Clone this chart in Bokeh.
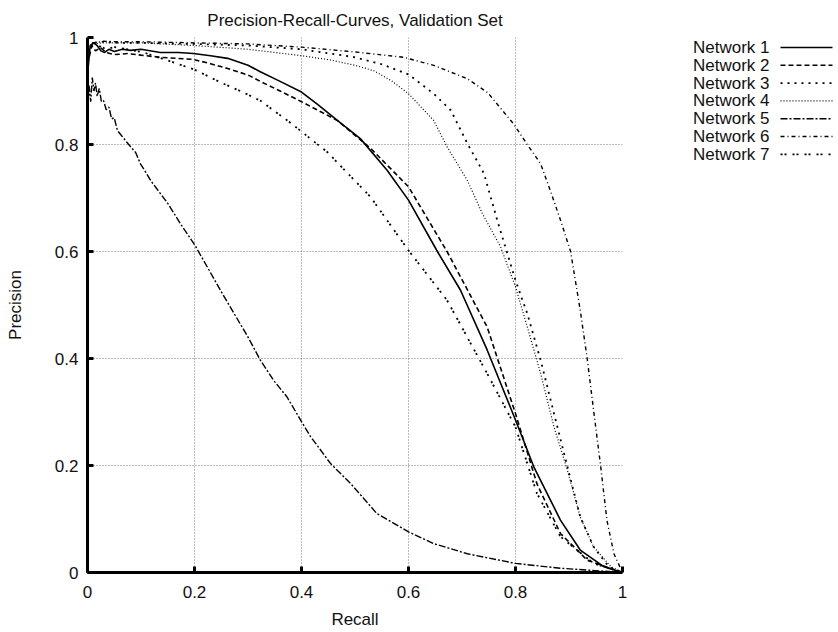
from bokeh.plotting import figure
from bokeh.models import Range1d, FixedTicker
from bokeh.layouts import row
from bokeh.embed import file_html
from bokeh.resources import INLINE
from bokeh.core.properties import value

FONT = "Liberation Sans"

# ---------------- data ----------------
series_names = ["Network 1", "Network 2", "Network 3", "Network 4",
                "Network 5", "Network 6", "Network 7"]

net1_recall = [0, 0.005, 0.012, 0.018, 0.025, 0.032, 0.04, 0.05, 0.065, 0.08, 0.1, 0.136, 0.17,
               0.198, 0.23, 0.262, 0.3, 0.323, 0.36, 0.4, 0.43, 0.467, 0.51, 0.56, 0.6, 0.654,
               0.697, 0.747, 0.8, 0.834, 0.884, 0.921, 0.965, 1.0]
net1_precision = [0.93, 0.985, 0.99, 0.985, 0.975, 0.972, 0.978, 0.974, 0.978, 0.976, 0.978, 0.972,
                  0.972, 0.970, 0.966, 0.961, 0.948, 0.936, 0.918, 0.898, 0.875, 0.845, 0.811,
                  0.752, 0.696, 0.60, 0.528, 0.416, 0.285, 0.198, 0.098, 0.042, 0.011, 0.0]

net2_recall = [0, 0.008, 0.015, 0.024, 0.035, 0.05, 0.075, 0.1, 0.136, 0.168, 0.198, 0.23, 0.262,
               0.3, 0.323, 0.36, 0.4, 0.467, 0.529, 0.6, 0.672, 0.747, 0.8, 0.84, 0.884, 0.934, 1.0]
net2_precision = [0.95, 0.985, 0.975, 0.981, 0.972, 0.968, 0.97, 0.967, 0.963, 0.961, 0.959, 0.951,
                  0.942, 0.930, 0.918, 0.900, 0.880, 0.845, 0.793, 0.721, 0.60, 0.459, 0.297,
                  0.166, 0.073, 0.023, 0.0]

net3_recall = [0, 0.01, 0.03, 0.06, 0.1, 0.2, 0.3, 0.4, 0.5, 0.55, 0.6, 0.647, 0.679, 0.71, 0.741,
               0.766, 0.8, 0.822, 0.847, 0.872, 0.897, 0.921, 0.946, 0.975, 1.0]
net3_precision = [0.97, 0.99, 0.992, 0.99, 0.99, 0.988, 0.985, 0.978, 0.963, 0.95, 0.931, 0.895,
                  0.864, 0.802, 0.746, 0.658, 0.546, 0.484, 0.397, 0.297, 0.198, 0.104, 0.048,
                  0.01, 0.0]

net4_recall = [0, 0.01, 0.03, 0.06, 0.1, 0.2, 0.3, 0.4, 0.454, 0.5, 0.535, 0.567, 0.6, 0.647,
               0.673, 0.71, 0.738, 0.772, 0.8, 0.822, 0.847, 0.872, 0.897, 0.921, 0.946, 0.978, 1.0]
net4_precision = [0.97, 0.988, 0.99, 0.99, 0.99, 0.985, 0.978, 0.966, 0.958, 0.948, 0.938, 0.92,
                  0.895, 0.845, 0.794, 0.733, 0.671, 0.609, 0.534, 0.459, 0.372, 0.272, 0.191,
                  0.104, 0.048, 0.011, 0.0]

net5_recall = [0, 0.003, 0.006, 0.009, 0.012, 0.015, 0.018, 0.022, 0.026, 0.03, 0.035, 0.04, 0.045,
               0.05, 0.056, 0.065, 0.077, 0.09, 0.099, 0.12, 0.15, 0.175, 0.2, 0.25, 0.3, 0.323,
               0.348, 0.373, 0.4, 0.417, 0.454, 0.492, 0.541, 0.6, 0.647, 0.71, 0.8, 0.884, 1.0]
net5_precision = [0.86, 0.91, 0.88, 0.925, 0.9, 0.915, 0.89, 0.905, 0.88, 0.882, 0.865, 0.87, 0.848,
                  0.85, 0.826, 0.815, 0.8, 0.785, 0.764, 0.73, 0.69, 0.65, 0.613, 0.525, 0.44,
                  0.397, 0.359, 0.328, 0.282, 0.254, 0.204, 0.166, 0.11, 0.076, 0.054, 0.035,
                  0.017, 0.008, 0.0]

net6_recall = [0, 0.01, 0.03, 0.06, 0.1, 0.2, 0.3, 0.4, 0.5, 0.591, 0.647, 0.71, 0.748, 0.796,
               0.822, 0.847, 0.865, 0.884, 0.903, 0.921, 0.934, 0.946, 0.959, 0.971, 0.984, 1.0]
net6_precision = [0.97, 0.99, 0.993, 0.992, 0.992, 0.99, 0.988, 0.982, 0.973, 0.963, 0.948, 0.923,
                  0.897, 0.839, 0.8, 0.764, 0.714, 0.659, 0.6, 0.49, 0.4, 0.303, 0.2, 0.097,
                  0.035, 0.0]

net7_recall = [0, 0.01, 0.02, 0.035, 0.05, 0.075, 0.105, 0.135, 0.168, 0.2, 0.249, 0.29, 0.323,
               0.38, 0.448, 0.529, 0.6, 0.672, 0.747, 0.8, 0.84, 0.884, 0.946, 1.0]
net7_precision = [0.96, 0.99, 0.985, 0.978, 0.982, 0.978, 0.972, 0.962, 0.951, 0.94, 0.916, 0.898,
                  0.882, 0.84, 0.786, 0.702, 0.602, 0.509, 0.372, 0.272, 0.148, 0.067, 0.017, 0.0]

tick_values = [0, 0.2, 0.4, 0.6, 0.8, 1]
tick_labels = ["0", "0.2", "0.4", "0.6", "0.8", "1"]

# ---------------- styles ----------------
recalls = [net1_recall, net2_recall, net3_recall, net4_recall, net5_recall, net6_recall, net7_recall]
precisions = [net1_precision, net2_precision, net3_precision, net4_precision,
              net5_precision, net6_precision, net7_precision]
dashes = ["solid", "5 3", "2 5", "1 2", "7 2 2 2", "4 3 1 3", "2 2 2 6"]
widths = [1.6, 1.6, 1.8, 1.2, 1.4, 1.4, 1.8]

# layout (pixels)
FRAME = 535
B_LEFT, B_TOP, B_BOTTOM, B_RIGHT = 87, 37, 60, 20
W_MAIN = B_LEFT + FRAME + B_RIGHT
W_LEG = 838 - W_MAIN

# ---------------- main plot ----------------
p = figure(frame_width=FRAME, frame_height=FRAME,
           x_range=Range1d(0, 1), y_range=Range1d(0, 1),
           min_border_left=B_LEFT, min_border_right=B_RIGHT,
           min_border_top=B_TOP, min_border_bottom=B_BOTTOM,
           output_backend="svg", toolbar_location=None,
           title="Precision-Recall-Curves, Validation Set")
p.outline_line_color = None
p.background_fill_color = "white"
p.border_fill_color = "white"

p.title.align = "center"
p.title.text_font = FONT
p.title.text_font_size = "17px"
p.title.text_font_style = "normal"
p.title.text_color = "#111111"
p.title.standoff = 16

for ax in (p.xaxis[0], p.yaxis[0]):
    ax.ticker = FixedTicker(ticks=tick_values)
    ax.major_label_overrides = dict(zip(tick_values, tick_labels))
    ax.axis_line_width = 3
    ax.axis_line_color = "black"
    ax.major_tick_in = 6
    ax.major_tick_out = 0
    ax.major_tick_line_width = 3
    ax.major_tick_line_color = "black"
    ax.minor_tick_line_color = None
    ax.major_label_text_font = FONT
    ax.major_label_text_font_size = "17px"
    ax.major_label_text_color = "#111111"
    ax.axis_label_text_font = FONT
    ax.axis_label_text_font_size = "17px"
    ax.axis_label_text_font_style = "normal"
    ax.axis_label_text_color = "#111111"

p.xaxis.axis_label = "Recall"
p.yaxis.axis_label = "Precision"
p.xaxis.major_label_standoff = 13
p.xaxis.axis_label_standoff = 9
p.yaxis.major_label_standoff = 9
p.yaxis.axis_label_standoff = 27

for g in (p.xgrid[0], p.ygrid[0]):
    g.ticker = FixedTicker(ticks=tick_values)
    g.grid_line_color = "#777777"
    g.grid_line_dash = "1 2"
    g.grid_line_width = 1

for xs, ys, d, w in zip(recalls, precisions, dashes, widths):
    p.line(xs, ys, line_color="black", line_width=w, line_dash=d)

# ---------------- legend (label left, sample right, as in the reference) ----------------
# its ranges are set so that one unit is one pixel of the page
leg = figure(frame_width=W_LEG, frame_height=FRAME,
             x_range=Range1d(W_MAIN, W_MAIN + W_LEG), y_range=Range1d(B_TOP + FRAME, B_TOP),
             min_border_left=0, min_border_right=0,
             min_border_top=B_TOP, min_border_bottom=B_BOTTOM,
             output_backend="svg", toolbar_location=None, title=None)
leg.axis.visible = False
leg.grid.visible = False
leg.outline_line_color = None
leg.background_fill_color = "white"
leg.border_fill_color = "white"

text_right = 769
line_x0, line_x1 = 780, 832
row0, row_step = 47, 17.8
ys_leg = [row0 + i * row_step for i in range(len(series_names))]
leg.text(x=[text_right] * len(series_names), y=ys_leg, text=series_names,
         text_align="right", text_baseline="middle",
         text_font=value(FONT), text_font_size="17px", text_color="#111111")
for yv, d, w in zip(ys_leg, dashes, widths):
    leg.line([line_x0, line_x1], [yv, yv], line_color="black", line_width=w, line_dash=d)

layout = row(p, leg)
open("out.html", "w").write(file_html(layout, INLINE))
